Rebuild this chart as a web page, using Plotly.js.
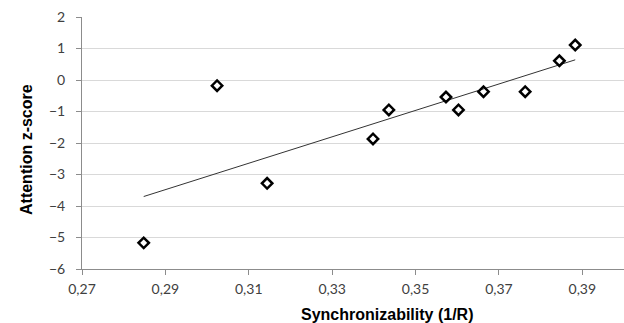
<!DOCTYPE html>
<html>
<head>
<meta charset="utf-8">
<script src="https://cdn.plot.ly/plotly-3.0.1.min.js"></script>
<style>html,body{margin:0;padding:0;background:#fff;overflow:hidden}#chart{width:624px;height:323px}</style>
</head>
<body>
<div id="chart"></div>
<script>
const synchronizability = [0.2848, 0.3024, 0.3144, 0.3398, 0.3436, 0.3573, 0.3603, 0.3663, 0.3763, 0.3845, 0.3883];
const attentionZ = [-5.17, -0.18, -3.28, -1.87, -0.95, -0.54, -0.95, -0.37, -0.37, 0.61, 1.11];
const xTitle = 'Synchronizability (1/R)';
const yTitle = 'Attention z-score';

// Linear least-squares trendline (as in the original spreadsheet chart)
const n = synchronizability.length;
const mx = synchronizability.reduce((a, b) => a + b, 0) / n;
const my = attentionZ.reduce((a, b) => a + b, 0) / n;
let sxy = 0, sxx = 0;
for (let i = 0; i < n; i++) {
  sxy += (synchronizability[i] - mx) * (attentionZ[i] - my);
  sxx += (synchronizability[i] - mx) ** 2;
}
const slope = sxy / sxx;
const intercept = my - slope * mx;
const xMin = Math.min(...synchronizability), xMax = Math.max(...synchronizability);
const trendX = [xMin, xMax];
const trendY = trendX.map(x => intercept + slope * x);

const traces = [
  {
    x: trendX, y: trendY, type: 'scatter', mode: 'lines',
    line: {color: '#333333', width: 1}, hoverinfo: 'skip', showlegend: false
  },
  {
    x: synchronizability, y: attentionZ, type: 'scatter', mode: 'markers',
    marker: {symbol: 'diamond-open', size: 8, color: '#000000', line: {color: '#000000', width: 2.5}},
    showlegend: false
  }
];

const tickFont = {family: 'Lato, "Open Sans", sans-serif', size: 14, color: '#404040'};
const titleFont = {family: '"Liberation Sans", Arial, sans-serif', size: 16, color: '#000000'};
const layout = {
  width: 624, height: 323,
  margin: {l: 82, r: 0, t: 17, b: 54},
  paper_bgcolor: '#ffffff', plot_bgcolor: '#ffffff',
  separators: ',.',
  showlegend: false,
  xaxis: {
    range: [0.27, 0.40], tick0: 0.27, dtick: 0.02, tickformat: '.2f',
    showgrid: false, zeroline: false,
    showline: true, linecolor: '#8c8c8c', linewidth: 1,
    ticks: 'outside', ticklen: 5, tickcolor: '#8c8c8c',
    tickfont: tickFont, ticklabelstandoff: 2
  },
  yaxis: {
    range: [-6, 2], dtick: 1, tickformat: 'd',
    showgrid: true, gridcolor: '#d9d9d9', gridwidth: 1, zeroline: false,
    showline: true, linecolor: '#8c8c8c', linewidth: 1,
    ticks: 'outside', ticklen: 5, tickcolor: '#8c8c8c',
    tickfont: tickFont, ticklabelstandoff: 8
  },
  annotations: [
    {
      text: '<b>' + xTitle + '</b>', xref: 'paper', yref: 'paper', x: 0.563, y: 0, yshift: -45,
      xanchor: 'center', yanchor: 'middle', showarrow: false, font: titleFont
    },
    {
      text: '<b>' + yTitle + '</b>', xref: 'paper', yref: 'paper', x: 0, xshift: -56, y: 0.5, yshift: -7,
      xanchor: 'center', yanchor: 'middle', textangle: -90, showarrow: false, font: titleFont
    }
  ]
};

Plotly.newPlot('chart', traces, layout, {displayModeBar: false, staticPlot: true});
</script>
</body>
</html>
